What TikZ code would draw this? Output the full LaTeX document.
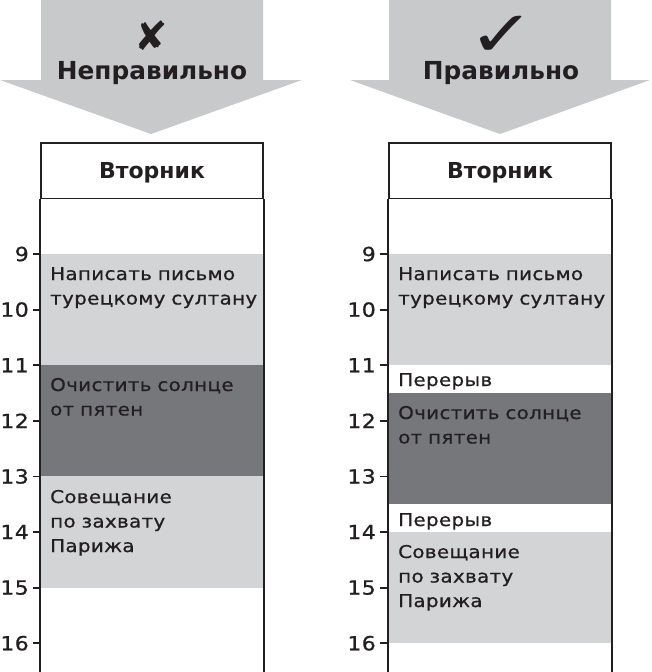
\documentclass[tikz,border=0pt]{standalone}
\usepackage{fontspec}
\setmainfont{DejaVu Sans}
\newfontfamily\slotfont{DejaVu Sans}[FakeStretch=1.13,LetterSpace=1.8,FakeBold=0.8]
\usetikzlibrary{positioning}
\definecolor{arrowgray}{HTML}{C8C9CA}
\definecolor{slotlight}{HTML}{D3D4D6}
\definecolor{slotdark}{HTML}{76777B}
\definecolor{ink}{HTML}{231F20}
\begin{document}
\begin{tikzpicture}[x=1pt,y=1pt,
  grid/.style={line width=1.8pt,draw=ink},
  markstyle/.style={anchor=base,inner sep=0pt,text depth=0pt,text=ink},
  dayhead/.style={grid,minimum width=222pt,minimum height=55.5pt,inner sep=0pt,text depth=0pt,font=\bfseries\fontsize{22}{24}\selectfont,text=ink},
  headtext/.style={anchor=base,inner sep=0pt,font=\bfseries\fontsize{24.8}{26}\selectfont,text=ink},
  hourlabel/.style={anchor=east,inner sep=0pt,font=\slotfont\fontsize{19.5}{20}\selectfont,text=ink},
  slottext/.style={anchor=base west,inner sep=0pt,text width=225pt,align=left,font=\slotfont\fontsize{17.6}{24.5}\selectfont,text=ink}]
\useasboundingbox (0,0) rectangle (652,-672);

\fill[arrowgray] (41,0) -- (263,0) -- (263,-80) -- (302,-80) -- (151,-134) -- (0,-80) -- (41,-80) -- cycle;
\fill[arrowgray] (389,0) -- (611,0) -- (611,-80) -- (650,-80) -- (500,-134) -- (350,-80) -- (389,-80) -- cycle;
\node[markstyle,font=\fontsize{40}{40}\selectfont] (wrongmark) at (151,-50) {✘};
\node[markstyle,font=\fontsize{64}{64}\selectfont] (rightmark) at (502,-56) {\scalebox{1.25}[1]{✓}};
\node[headtext] (wrongtitle) at (152,-79) {Неправильно};
\node[headtext] (righttitle) at (501,-79) {Правильно};

\fill[slotlight] (41,-254) rectangle (263,-365.2);
\fill[slotdark] (41,-365.2) rectangle (263,-476.4);
\fill[slotlight] (41,-476.4) rectangle (263,-587.6);
\fill[slotlight] (389,-254) rectangle (611,-365.2);
\fill[slotdark] (389,-393) rectangle (611,-504.2);
\fill[slotlight] (389,-532) rectangle (611,-643.2);

\node[dayhead] (wrongday) at (152,-170.75) {Вторник};
\node[dayhead] (rightday) at (500,-170.75) {Вторник};
\draw[grid] (wrongday.south west) -- ++(0,-474);
\draw[grid] (wrongday.south east) -- ++(0,-474);
\draw[grid] (rightday.south west) -- ++(0,-474);
\draw[grid] (rightday.south east) -- ++(0,-474);

\foreach \h [evaluate=\h as \y using -254-(\h-9)*55.6] in {9,...,16} {
  \draw[grid] (33,\y) -- (41,\y);
  \node[hourlabel] (wronghour\h) at (29,\y) {\h};
  \draw[grid] (380,\y) -- (389,\y);
  \node[hourlabel] (righthour\h) at (376,\y) {\h};
}

\node[slottext] (wrongletter) at (50,-280) {Написать письмо\\турецкому султану};
\node[slottext] (wrongsun) at (50,-391) {Очистить солнце\\от пятен};
\node[slottext] (wrongmeet) at (50,-503) {Совещание\\по захвату\\Парижа};
\node[slottext] (rightletter) at (398,-280) {Написать письмо\\турецкому султану};
\node[slottext] (rightbreaka) at (398,-386) {Перерыв};
\node[slottext] (rightsun) at (398,-419) {Очистить солнце\\от пятен};
\node[slottext] (rightbreakb) at (398,-526) {Перерыв};
\node[slottext] (rightmeet) at (398,-558) {Совещание\\по захвату\\Парижа};
\end{tikzpicture}
\end{document}
